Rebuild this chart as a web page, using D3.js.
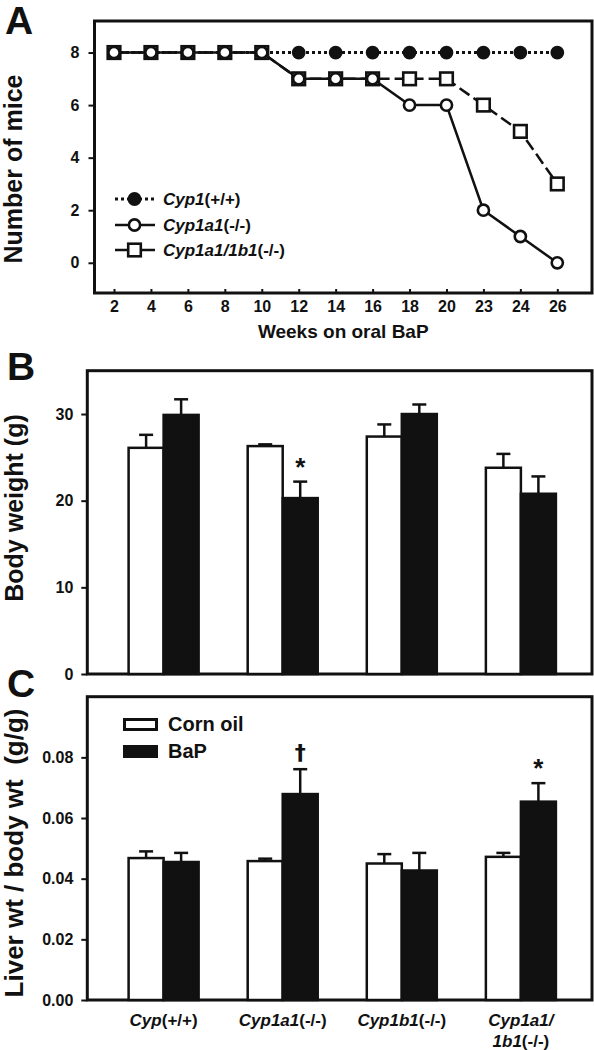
<!DOCTYPE html>
<html><head><meta charset="utf-8">
<script src="https://cdn.jsdelivr.net/npm/d3@7"></script>
<style>
html,body{margin:0;padding:0;background:#fff;}
svg text{font-family:"Liberation Sans",Arial,sans-serif;font-weight:bold;fill:#111;}
</style></head>
<body>
<svg id="chart" width="594" height="1050"></svg>
<script>
// ---------- Data ----------
const weeks = ["2","4","6","8","10","12","14","16","18","20","23","24","26"];
const miceWT = [8,8,8,8,8,8,8,8,8,8,8,8,8];
const miceA1 = [8,8,8,8,8,7,7,7,6,6,2,1,0];
const miceA1B1 = [8,8,8,8,8,7,7,7,7,7,6,5,3];
const seriesNames = ["Cyp1", "Cyp1a1", "Cyp1a1/1b1"];
const seriesSuffix = ["(+/+)", "(-/-)", "(-/-)"];
const miceTicks = [0,2,4,6,8];

const groups = ["Cyp(+/+)", "Cyp1a1(-/-)", "Cyp1b1(-/-)", "Cyp1a1/1b1(-/-)"];
const groupItalic = [["Cyp"], ["Cyp1a1"], ["Cyp1b1"], ["Cyp1a1/", "1b1"]];
const groupNormal = [["(+/+)"], ["(-/-)"], ["(-/-)"], ["", "(-/-)"]];
const treatments = ["Corn oil", "BaP"];

const bwCorn = [26.1, 26.3, 27.4, 23.8];
const bwCornErr = [1.5, 0.2, 1.4, 1.6];
const bwBaP = [29.9, 20.3, 30.0, 20.8];
const bwBaPErr = [1.8, 1.9, 1.1, 2.0];
const bwSig = ["", "*", "", ""];
const bwTicks = [0,10,20,30];

const livCorn = [0.0468, 0.0458, 0.0450, 0.0472];
const livCornErr = [0.0022, 0.0008, 0.0031, 0.0013];
const livBaP = [0.0455, 0.0679, 0.0427, 0.0654];
const livBaPErr = [0.0030, 0.0082, 0.0058, 0.0061];
const livSig = ["", "\u2020", "", "*"];
const livTicks = [0,0.02,0.04,0.06,0.08];

// ---------- Setup ----------
const svg = d3.select("#chart");
const INK = "#111";

function frame(x0,y0,x1,y1){
  svg.append("rect").attr("x",x0).attr("y",y0).attr("width",x1-x0).attr("height",y1-y0)
    .attr("fill","none").attr("stroke",INK).attr("stroke-width",3);
}
function panelLetter(t,x,y){
  svg.append("text").attr("x",x).attr("y",y).attr("font-size",39).text(t);
}
function yTitle(t,x,y,size){
  svg.append("text").attr("transform",`translate(${x},${y}) rotate(-90)`)
    .attr("text-anchor","middle").attr("font-size",size).style("white-space","pre").text(t);
}

// ---------- Panel A ----------
const A = {l:94.5, r:592, t:21, b:293};
const xA = d3.scalePoint().domain(weeks).range([114, 557.3]);
const yA = d3.scaleLinear().domain([-1.15, 9.2]).range([A.b, A.t]);

frame(A.l, A.t, A.r, A.b);
const axA = svg.append("g").attr("transform",`translate(${A.l},0)`)
  .call(d3.axisLeft(yA).tickValues(miceTicks).tickSize(6).tickPadding(9));
const axAx = svg.append("g").attr("transform",`translate(0,${A.b})`)
  .call(d3.axisBottom(xA).tickSize(-4).tickPadding(8));
[axA, axAx].forEach(g=>{
  g.select(".domain").remove();
  g.selectAll("line").attr("stroke",INK).attr("stroke-width",2);
  g.selectAll("text").attr("font-size",16).attr("font-family",null).attr("fill",INK);
});
svg.append("text").attr("x",(A.l+A.r)/2).attr("y",338).attr("text-anchor","middle")
  .attr("font-size",19).text("Weeks on oral BaP");
yTitle("Number of mice", 22, 169, 25);
panelLetter("A", 5, 34);

const seriesData = [miceWT, miceA1, miceA1B1];
const dashes = ["3,3", null, "12,5"];
const line = d3.line().x((d,i)=>xA(weeks[i])).y(d=>yA(d));
seriesData.forEach((s,k)=>{
  svg.append("path").datum(s).attr("d",line).attr("fill","none")
    .attr("stroke",INK).attr("stroke-width",k===0?3:2.5)
    .attr("stroke-dasharray",dashes[k]);
});
function square(g,x,y){
  g.append("rect").attr("x",x-6.3).attr("y",y-6.3).attr("width",12.6).attr("height",12.6)
    .attr("fill","#fff").attr("stroke",INK).attr("stroke-width",2.6);
}
function circ(g,x,y,filled){
  g.append("circle").attr("cx",x).attr("cy",y).attr("r",5.6)
    .attr("fill",filled?INK:"#fff").attr("stroke",INK).attr("stroke-width",2.6);
}
const mk = svg.append("g");
miceA1B1.forEach((v,i)=>square(mk, xA(weeks[i]), yA(v)));
miceWT.forEach((v,i)=>circ(mk, xA(weeks[i]), yA(v), true));
miceA1.forEach((v,i)=>circ(mk, xA(weeks[i]), yA(v), false));

// legend A
const legY = [199, 225, 250];
seriesNames.forEach((n,k)=>{
  const y = legY[k];
  svg.append("line").attr("x1",115).attr("x2",155).attr("y1",y).attr("y2",y)
    .attr("stroke",INK).attr("stroke-width",k===0?3:2.5).attr("stroke-dasharray",k===2?"18,6":dashes[k]);
  if(k===0) circ(svg,134.5,y,true);
  if(k===1) circ(svg,134.5,y,false);
  if(k===2) square(svg,134.5,y);
  const t = svg.append("text").attr("x",163).attr("y",y+6).attr("font-size",17);
  t.append("tspan").attr("font-style","italic").text(n);
  t.append("tspan").text(seriesSuffix[k]);
});

// ---------- Bar panels ----------
const xG = d3.scaleBand().domain(groups).range([128.6, 555.9]).paddingInner(0.412).paddingOuter(0);
const xT = d3.scaleBand().domain(treatments).range([0, xG.bandwidth()]);

function barPanel(P, y, ticks, fmt, corn, cornErr, bap, bapErr, sig){
  frame(P.l, P.t, P.r, P.b);
  const ax = svg.append("g").attr("transform",`translate(${P.l},0)`)
    .call(d3.axisLeft(y).tickValues(ticks).tickFormat(fmt).tickSize(6).tickPadding(8));
  ax.select(".domain").remove();
  ax.selectAll("line").attr("stroke",INK).attr("stroke-width",2);
  ax.selectAll("text").attr("font-size",16).attr("font-family",null).attr("fill",INK);
  [[corn,cornErr,"#fff"],[bap,bapErr,INK]].forEach(([vals,errs,fill],ti)=>{
    const g = svg.append("g");
    vals.forEach((v,i)=>{
      const x0 = xG(groups[i]) + xT(treatments[ti]);
      const w = xT.bandwidth();
      const cx = x0 + w/2;
      const top = v + errs[i];
      g.append("line").attr("x1",cx).attr("x2",cx).attr("y1",y(v)).attr("y2",y(top))
        .attr("stroke",INK).attr("stroke-width",2.5);
      g.append("line").attr("x1",cx-7).attr("x2",cx+7).attr("y1",y(top)).attr("y2",y(top))
        .attr("stroke",INK).attr("stroke-width",2.5);
      g.append("rect").attr("x",x0).attr("y",y(v)).attr("width",w).attr("height",y(0)-y(v))
        .attr("fill",fill).attr("stroke",INK).attr("stroke-width",2.5);
      if(ti===1 && sig[i]){
        const isStar = sig[i]==="*";
        svg.append("text").attr("x",cx).attr("y",y(top)-(isStar?6:9)).attr("text-anchor","middle")
          .attr("font-size",isStar?26:22)
          .style("font-family",isStar?null:"'DejaVu Sans',sans-serif")
          .text(sig[i]);
      }
    });
  });
}

// Panel B
const B = {l:87.3, r:592, t:370.7, b:674};
const yB = d3.scaleLinear().domain([0,35]).range([B.b, B.t]);
barPanel(B, yB, bwTicks, d3.format("d"), bwCorn, bwCornErr, bwBaP, bwBaPErr, bwSig);
yTitle("Body weight (g)", 23, 508, 25);
panelLetter("B", 7, 380);

// Panel C
const C = {l:87.3, r:592, t:696.7, b:1000};
const yC = d3.scaleLinear().domain([0,0.1]).range([C.b, C.t]);
barPanel(C, yC, livTicks, d3.format(".2f"), livCorn, livCornErr, livBaP, livBaPErr, livSig);
yTitle("Liver wt / body wt  (g/g)", 23, 853, 26);
panelLetter("C", 7, 697);

// legend C
treatments.forEach((t,k)=>{
  const y = 718 + k*27;
  svg.append("rect").attr("x",124.5).attr("y",y+1.5).attr("width",32).attr("height",10)
    .attr("fill",k===0?"#fff":INK).attr("stroke",INK).attr("stroke-width",3);
  svg.append("text").attr("x",168).attr("y",y+13).attr("font-size",20).text(t);
});

// x labels C
groups.forEach((g,i)=>{
  const cx = xG(g) + xG.bandwidth()/2;
  groupItalic[i].forEach((it,j)=>{
    const t = svg.append("text").attr("x",cx).attr("y",1026 + j*21).attr("text-anchor","middle").attr("font-size",17);
    t.append("tspan").attr("font-style","italic").text(it);
    if(groupNormal[i][j]) t.append("tspan").text(groupNormal[i][j]);
  });
});
</script>
</body></html>
